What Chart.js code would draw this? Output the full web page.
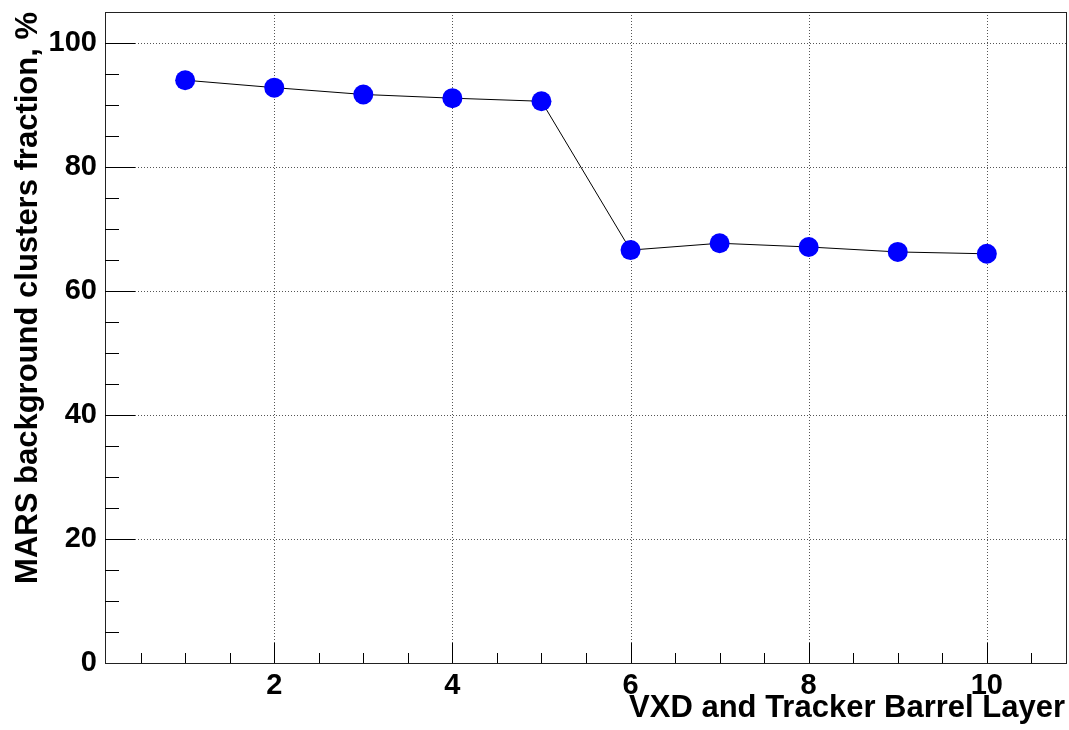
<!DOCTYPE html>
<html>
<head>
<meta charset="utf-8">
<script src="https://cdn.jsdelivr.net/npm/chart.js@4.4.1/dist/chart.umd.min.js"></script>
<style>
  html, body { margin: 0; padding: 0; background: #fff; }
  #wrap { width: 1069px; height: 730px; }
</style>
</head>
<body>
<div id="wrap"><canvas id="layerChart" width="1069" height="730"></canvas></div>
<script>
// barrel layers and MARS background cluster fraction (%)
const layers = [1, 2, 3, 4, 5, 6, 7, 8, 9, 10];
const marsFraction = [94.0, 92.8, 91.7, 91.1, 90.6, 66.6, 67.7, 67.1, 66.3, 66.0];

const xTicks = [2, 4, 6, 8, 10];
const yTicks = [0, 20, 40, 60, 80, 100];

const FONT = '"Liberation Sans", Arial, Helvetica, sans-serif';

// markers sit well inside the x range, so don't let their radius shrink the plot area
Chart.LineController.prototype.getMaxOverflow = function () { return 0; };

// ROOT-style frame: ticks inside, dotted grid on major ticks, titles at the ends
const frameAxes = {
  id: 'frameAxes',
  beforeDatasetsDraw(chart) {
    const { ctx, chartArea: a, scales: { x, y } } = chart;
    ctx.save();
    ctx.lineWidth = 1;

    // dotted grid
    ctx.strokeStyle = '#555';
    ctx.setLineDash([1, 2]);
    xTicks.forEach(v => {
      const px = Math.round(x.getPixelForValue(v)) + 0.5;
      ctx.beginPath();
      ctx.moveTo(px, a.top);
      ctx.lineTo(px, a.bottom - 20);
      ctx.stroke();
    });
    yTicks.forEach(v => {
      if (v === 0) return;
      const py = Math.round(y.getPixelForValue(v)) + 0.5;
      ctx.beginPath();
      ctx.moveTo(a.left + 30, py);
      ctx.lineTo(a.right, py);
      ctx.stroke();
    });
    ctx.setLineDash([]);

    // frame
    ctx.strokeStyle = '#222';
    ctx.strokeRect(Math.round(a.left) + 0.5, Math.round(a.top) + 0.5,
                   Math.round(a.right - a.left) - 1, Math.round(a.bottom - a.top));

    // x ticks every 0.5, major at labelled values
    ctx.strokeStyle = '#000';
    for (let v = 0.5; v < x.max; v += 0.5) {
      const px = Math.round(x.getPixelForValue(v)) + 0.5;
      const len = xTicks.includes(v) ? 20 : 10;
      ctx.beginPath();
      ctx.moveTo(px, a.bottom);
      ctx.lineTo(px, a.bottom - len);
      ctx.stroke();
    }
    // y ticks every 5, major every 20
    for (let v = 5; v < y.max; v += 5) {
      const py = Math.round(y.getPixelForValue(v)) + 0.5;
      const len = yTicks.includes(v) ? 30 : 14;
      ctx.beginPath();
      ctx.moveTo(a.left, py);
      ctx.lineTo(a.left + len, py);
      ctx.stroke();
    }
    ctx.restore();
  },
  afterDraw(chart) {
    const { ctx } = chart;
    ctx.save();
    ctx.fillStyle = '#000';
    ctx.font = 'bold 31px ' + FONT;
    ctx.textAlign = 'right';
    ctx.textBaseline = 'alphabetic';
    ctx.fillText('VXD and Tracker Barrel Layer', 1065, 717);

    ctx.translate(37, 12);
    ctx.rotate(-Math.PI / 2);
    ctx.textAlign = 'right';
    ctx.fillText('MARS background clusters fraction, %', 0, 0);
    ctx.restore();
  }
};

// drop the edge padding Chart.js reserves for half-labels
const noEdgePad = s => {
  s.paddingLeft = 0; s.paddingRight = 0;
  s.paddingTop = 0; s.paddingBottom = 0;
};

new Chart(document.getElementById('layerChart'), {
  type: 'line',
  data: {
    datasets: [{
      data: layers.map((l, i) => ({ x: l, y: marsFraction[i] })),
      borderColor: '#000',
      borderWidth: 1,
      pointRadius: 10,
      pointBorderWidth: 0,
      pointBackgroundColor: '#0000ff',
      pointBorderColor: '#0000ff',
      tension: 0
    }]
  },
  options: {
    responsive: false,
    animation: false,
    layout: { padding: { top: 12, right: 2, left: 0, bottom: 0 } },
    plugins: { legend: { display: false }, tooltip: { enabled: false } },
    scales: {
      x: {
        type: 'linear',
        min: 0.1,
        max: 10.9,
        afterBuildTicks: s => { s.ticks = xTicks.map(v => ({ value: v })); },
        afterFit: s => { s.height = 67; noEdgePad(s); },
        grid: { display: false, drawTicks: false },
        border: { display: false },
        ticks: {
          color: '#000',
          padding: 8,
          maxRotation: 0,
          font: { family: FONT, size: 29, weight: 'bold', lineHeight: 1 }
        }
      },
      y: {
        min: 0,
        max: 105,
        afterBuildTicks: s => { s.ticks = yTicks.map(v => ({ value: v })); },
        afterFit: s => { s.width = 105; noEdgePad(s); },
        grid: { display: false, drawTicks: false },
        border: { display: false },
        ticks: {
          color: '#000',
          padding: 8,
          font: { family: FONT, size: 29, weight: 'bold' }
        }
      }
    }
  },
  plugins: [frameAxes]
});
</script>
</body>
</html>
